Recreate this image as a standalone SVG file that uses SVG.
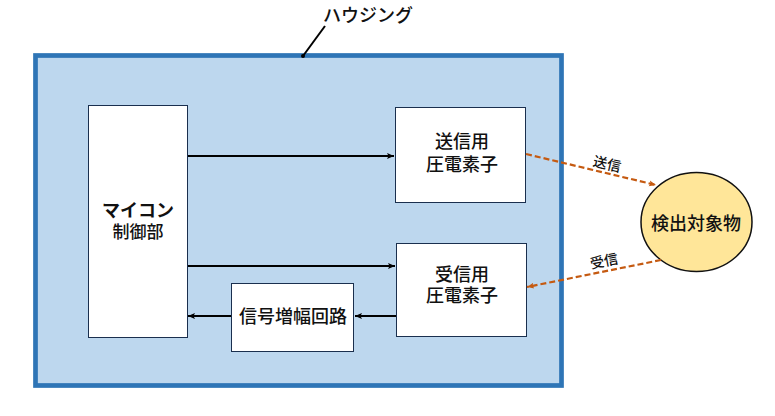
<svg xmlns="http://www.w3.org/2000/svg" width="775" height="416" viewBox="0 0 775 416">
<style>
text{font-family:"Noto Sans CJK JP","Noto Sans CJK SC",sans-serif;font-weight:500;fill:#111;text-anchor:middle}
.b{fill:#fff;stroke:#1a2f4e;stroke-width:1}
.k{stroke:#000;stroke-width:2;fill:none}
.o{stroke:#c55a11;stroke-width:2.200;stroke-dasharray:6 3;fill:none}
.t{font-size:18px}
</style>
<defs>
<marker id="ak" markerUnits="userSpaceOnUse" markerWidth="8" markerHeight="8" refX="7" refY="4" orient="auto"><path d="M0 1L7 4L0 7L1.500 4Z" fill="#000"/></marker>
<marker id="ao" markerUnits="userSpaceOnUse" markerWidth="8" markerHeight="8" refX="7" refY="4" orient="auto"><path d="M0 1L7 4L0 7L1.500 4Z" fill="#c55a11"/></marker>
</defs>
<g id="housing"><rect x="35.500" y="55.500" width="526" height="330" fill="#bdd7ee" stroke="#2e75b6" stroke-width="4.700"/></g>
<g id="mcu"><rect class="b" x="88.500" y="105.500" width="99" height="232"/><text class="t"><tspan x="138" y="217" style="font-weight:700">マイコン</tspan><tspan x="138" y="238" style="font-size:17px">制御部</tspan></text></g>
<g id="tx"><rect class="b" x="395.500" y="107.500" width="130" height="95"/><text class="t"><tspan x="462" y="148">送信用</tspan><tspan x="462" y="171">圧電素子</tspan></text></g>
<g id="rx"><rect class="b" x="396.500" y="243.500" width="130" height="93"/><text class="t"><tspan x="462" y="281">受信用</tspan><tspan x="462" y="302">圧電素子</tspan></text></g>
<g id="amp"><rect class="b" x="231.500" y="283.500" width="122" height="68"/><text x="293" y="323" class="t">信号増幅回路</text></g>
<g id="target"><ellipse cx="696.500" cy="222" rx="55.500" ry="49.500" fill="#ffe699" stroke="#111" stroke-width="1.500"/><text x="696" y="230" class="t">検出対象物</text></g>
<g id="connectors">
<path class="k" d="M188 156H394" marker-end="url(#ak)"/>
<path class="k" d="M188 266H395" marker-end="url(#ak)"/>
<path class="k" d="M396 316H355" marker-end="url(#ak)"/>
<path class="k" d="M231 316H188" marker-end="url(#ak)"/>
<path class="o" d="M526 154L656 185" marker-end="url(#ao)"/>
<path class="o" d="M661 260L527 287" marker-end="url(#ao)"/>
<path d="M325 26L303 56" stroke="#000" stroke-width="2" fill="none"/><circle cx="303" cy="56" r="2" fill="#000"/>
</g>
<g id="labels">
<text x="368" y="22" class="t">ハウジング</text>
<text transform="translate(606 169) rotate(13)" font-size="14">送信</text>
<text transform="translate(605 266) rotate(-11)" font-size="14">受信</text>
</g>
</svg>
